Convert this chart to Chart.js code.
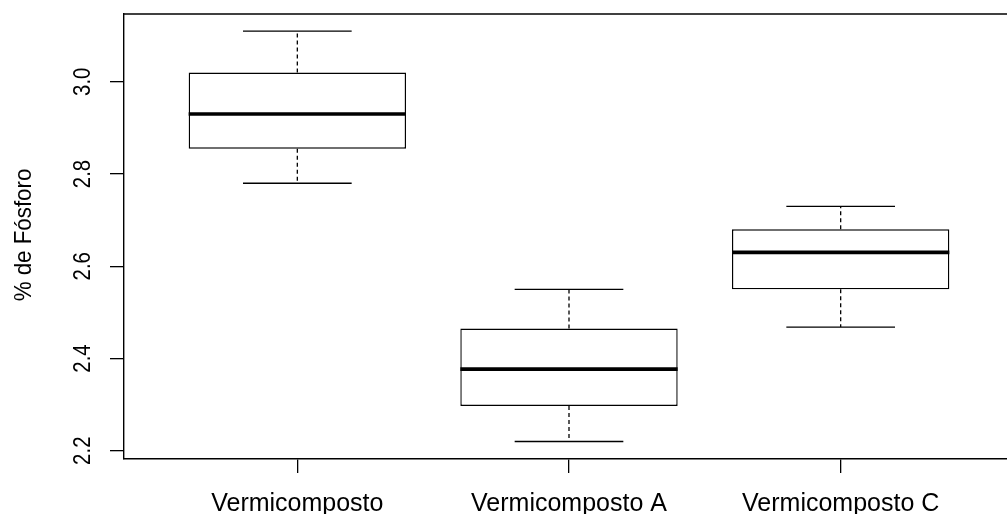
<!DOCTYPE html>
<html>
<head>
<meta charset="utf-8">
<script src="https://cdn.jsdelivr.net/npm/chart.js@4.4.1/dist/chart.umd.min.js"></script>
<style>
  html, body { margin: 0; padding: 0; background: #fff; overflow: hidden; }
  #wrap { width: 1020px; height: 514px; position: relative; }
</style>
</head>
<body>
<div id="wrap"><canvas id="c"></canvas></div>
<script>
// ---- data ----
const categories = ["Vermicomposto", "Vermicomposto A", "Vermicomposto C"];
const whiskerLow  = [2.78, 2.22, 2.468];
const quartile1   = [2.855, 2.297, 2.55];
const medians     = [2.93, 2.377, 2.63];
const quartile3   = [3.02, 2.465, 2.68];
const whiskerHigh = [3.11, 2.55, 2.73];
const yTicks = [2.2, 2.4, 2.6, 2.8, 3.0];
const yTickLabels = ["2.2", "2.4", "2.6", "2.8", "3.0"];
const yTitle = "% de Fósforo";

const FONT = "'Liberation Sans', Arial, sans-serif";

const datasets = [];
// boxes (floating bars)
datasets.push({
  type: 'bar',
  data: categories.map((c, i) => ({ x: i + 1, y: [quartile1[i], quartile3[i]] })),
  backgroundColor: '#ffffff',
  borderColor: '#000000',
  borderWidth: 1.4,
  borderSkipped: false,
  categoryPercentage: 0.8,
  barPercentage: 1.0,
  order: 2
});
function seg(points, width, dash, order) {
  datasets.push({
    type: 'line',
    data: points,
    borderColor: '#000000',
    borderWidth: width,
    borderDash: dash,
    pointRadius: 0,
    fill: false,
    tension: 0,
    order: order
  });
}
categories.forEach((c, i) => {
  const x = i + 1;
  // median
  seg([{ x: x - 0.4, y: medians[i] }, { x: x + 0.4, y: medians[i] }], 3.6, [], 0);
  // whiskers
  seg([{ x: x, y: quartile3[i] }, { x: x, y: whiskerHigh[i] }], 1.3, [4, 3], 3);
  seg([{ x: x, y: quartile1[i] }, { x: x, y: whiskerLow[i] }], 1.3, [4, 3], 3);
  // staples
  seg([{ x: x - 0.2, y: whiskerHigh[i] }, { x: x + 0.2, y: whiskerHigh[i] }], 1.3, [], 3);
  seg([{ x: x - 0.2, y: whiskerLow[i] }, { x: x + 0.2, y: whiskerLow[i] }], 1.3, [], 3);
});

const decor = {
  id: 'decor',
  afterDraw(chart) {
    const ctx = chart.ctx;
    const a = chart.chartArea;
    const ys = chart.scales.y;
    ctx.save();
    // top frame line
    ctx.strokeStyle = '#000';
    ctx.lineWidth = 1.4;
    ctx.beginPath();
    ctx.moveTo(a.left, a.top);
    ctx.lineTo(a.right, a.top);
    ctx.stroke();
    // rotated y tick labels
    ctx.fillStyle = '#000';
    ctx.font = "24px " + FONT;
    ctx.textAlign = 'center';
    ctx.textBaseline = 'alphabetic';
    yTicks.forEach((v, i) => {
      const y = ys.getPixelForValue(v);
      ctx.save();
      ctx.translate(89.5, y);
      ctx.rotate(-Math.PI / 2);
      ctx.scale(0.85, 1);
      ctx.fillText(yTickLabels[i], 0, 0);
      ctx.restore();
    });
    // y axis title
    ctx.save();
    ctx.translate(31, 235);
    ctx.rotate(-Math.PI / 2);
    ctx.scale(0.93, 1);
    ctx.fillText(yTitle, 0, 0);
    ctx.restore();
    ctx.restore();
  }
};

new Chart(document.getElementById('c'), {
  data: { datasets },
  options: {
    responsive: true,
    maintainAspectRatio: false,
    animation: false,
    events: [],
    layout: { padding: { top: 14, right: 6, left: 0, bottom: 0 } },
    plugins: { legend: { display: false }, tooltip: { enabled: false } },
    scales: {
      x: {
        type: 'linear',
        position: 'bottom',
        offset: false,
        min: 0.362,
        max: 3.638,
        afterBuildTicks(scale) { scale.ticks = categories.map((c, i) => ({ value: i + 1 })); },
        afterFit(scale) { scale.height = 55; },
        ticks: {
          callback: (v) => categories[Math.round(v) - 1],
          color: '#000',
          font: { family: FONT, size: 25 },
          padding: 16,
          maxRotation: 0,
          autoSkip: false
        },
        grid: { display: true, offset: false, drawOnChartArea: false, drawTicks: true, tickLength: 14, color: '#000', lineWidth: 1.3 },
        border: { display: true, color: '#000', width: 1.4 }
      },
      y: {
        type: 'linear',
        position: 'left',
        min: 2.182,
        max: 3.147,
        afterBuildTicks(scale) { scale.ticks = yTicks.map(v => ({ value: v })); },
        afterFit(scale) { scale.width = 124; },
        ticks: { display: false },
        grid: { display: true, drawOnChartArea: false, drawTicks: true, tickLength: 14, color: '#000', lineWidth: 1.3 },
        border: { display: true, color: '#000', width: 1.4 }
      }
    }
  },
  plugins: [decor]
});
</script>
</body>
</html>
